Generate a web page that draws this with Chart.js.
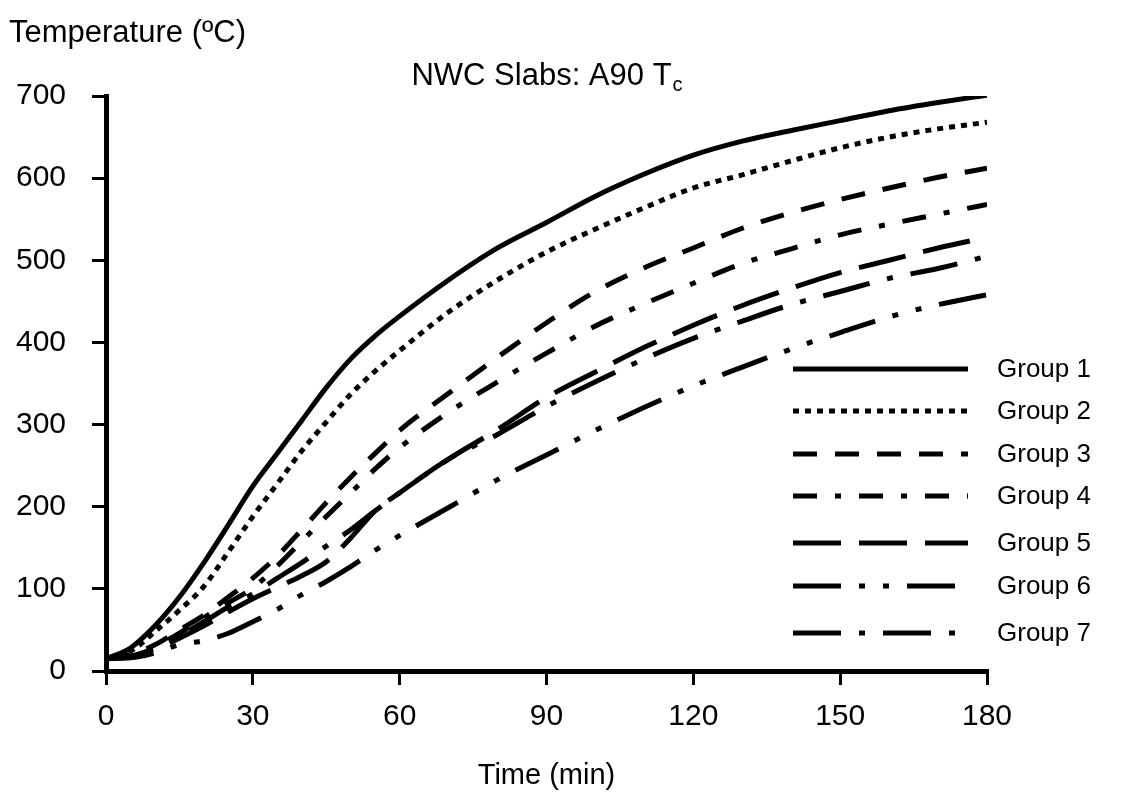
<!DOCTYPE html>
<html><head><meta charset="utf-8">
<script src="https://cdn.jsdelivr.net/npm/chart.js@4"></script>
<style>html,body{margin:0;padding:0;background:#fff;}canvas{display:block;}</style>
</head><body>
<canvas id="c" width="1127" height="798"></canvas>
<script>
// ---- data ----
const times  = [0,5,10,15,20,25,30,35,40,45,50,55,60,70,80,90,100,110,120,130,140,150,160,170,180];
const group1 = [15,28,55,90,132,178,225,265,305,345,380,408,432,476,515,546,578,605,628,645,658,670,682,692,701];
const group2 = [15,24,48,74,103,145,188,228,268,303,337,365,390,437,476,510,538,564,588,604,621,637,650,660,668];
const group3 = [15,20,32,50,68,90,113,140,172,205,236,265,293,338,382,424,462,491,515,539,558,574,588,601,612];
const group4 = [15,20,30,46,65,83,101,128,158,188,217,246,272,315,352,387,420,447,472,496,514,531,544,556,568];
const group5 = [15,18,27,40,55,72,88,102,116,133,162,195,217,258,294,333,364,394,421,445,466,485,500,515,528];
const group6 = [15,16,22,32,37,46,60,75,93,109,127,147,165,199,233,263,293,321,347,370,392,412,431,446,458];
const group7 = [15,18,28,43,60,78,94,113,132,152,172,195,217,258,288,322,352,380,405,426,446,462,478,490,505];
const seriesNames = ['Group 1','Group 2','Group 3','Group 4','Group 5','Group 6','Group 7'];
const xTicks = [0,30,60,90,120,150,180];
const yTicks = [0,100,200,300,400,500,600,700];
const titleMain = 'NWC Slabs: A90 T';
const titleSub = 'c';
const yLabel = 'Temperature (ºC)';
const xLabel = 'Time (min)';

// ---- styles ----
const dashes = [[],[6,6],[24,18],[24,18,6,18],[48,18],[48,18,6,18,6,18],[48,18,6,18]];
const FONT = '"Liberation Sans", Arial, sans-serif';
const FS_TICK = 30, FS_YLAB = 31, FS_TITLE = 31, FS_XLAB = 29, FS_LEG = 26;
const legendYs = [369,411,454,496,543,586,633];

const allSeries = [group1,group2,group3,group4,group5,group6,group7];
const datasets = allSeries.map((arr,i)=>({
  label: seriesNames[i],
  data: arr.map((v,j)=>({x: times[j], y: v})),
  borderColor:'#000', borderWidth:5, borderDash: dashes[i],
  borderCapStyle:'butt', borderJoinStyle:'round',
  pointRadius:0, fill:false, cubicInterpolationMode:'monotone'
}));

const textPlugin = {
  id:'texts',
  afterDraw(chart){
    const ctx = chart.ctx;
    ctx.save();
    ctx.fillStyle = '#000';
    ctx.textBaseline = 'middle';
    ctx.textAlign = 'left';
    ctx.font = FS_YLAB+'px '+FONT;
    ctx.fillText(yLabel, 9, 33);
    // title with subscript
    ctx.font = FS_TITLE+'px '+FONT;
    const w1 = ctx.measureText(titleMain).width;
    const subF = Math.round(FS_TITLE*0.65)+'px '+FONT;
    ctx.font = subF;
    const w2 = ctx.measureText(titleSub).width;
    const cx = (chart.chartArea.left + chart.chartArea.right)/2;
    const sx = cx - (w1+w2)/2;
    ctx.font = FS_TITLE+'px '+FONT;
    ctx.fillText(titleMain, sx, 76);
    ctx.font = subF;
    ctx.fillText(titleSub, sx + w1 + 1, 85);
    // x label
    ctx.font = FS_XLAB+'px '+FONT;
    ctx.textAlign = 'center';
    ctx.fillText(xLabel, cx, 776);
    // legend
    ctx.textAlign = 'left';
    ctx.font = FS_LEG+'px '+FONT;
    for (let i=0;i<seriesNames.length;i++){
      const y = legendYs[i];
      ctx.beginPath();
      ctx.setLineDash(dashes[i]);
      ctx.lineWidth = 5; ctx.lineCap='butt'; ctx.strokeStyle='#000';
      ctx.moveTo(793,y); ctx.lineTo(968,y); ctx.stroke();
      ctx.setLineDash([]);
      ctx.fillText(seriesNames[i], 997, y+1);
    }
    ctx.restore();
  }
};

new Chart(document.getElementById('c'), {
  type:'line',
  data:{datasets},
  options:{
    responsive:false, animation:false, devicePixelRatio:1,
    layout:{padding:{left:0,right:140,top:96,bottom:0}},
    plugins:{legend:{display:false}, title:{display:false}, tooltip:{enabled:false}},
    scales:{
      x:{type:'linear', min:0, max:180,
        afterBuildTicks: s => { s.ticks = xTicks.map(v=>({value:v})); },
        ticks:{font:{family:FONT,size:FS_TICK}, color:'#000', padding:14, maxRotation:0},
        grid:{drawOnChartArea:false, drawTicks:true, tickLength:14, color:'#000', lineWidth:3},
        border:{display:true, color:'#000', width:5},
        afterFit: s => { s.height = 127; }
      },
      y:{type:'linear', min:0, max:700,
        afterBuildTicks: s => { s.ticks = yTicks.map(v=>({value:v})); },
        ticks:{font:{family:FONT,size:FS_TICK}, color:'#000', padding:26},
        grid:{drawOnChartArea:false, drawTicks:true, tickLength:14, color:'#000', lineWidth:3},
        border:{display:true, color:'#000', width:5},
        afterFit: s => { s.width = 106; }
      }
    }
  },
  plugins:[textPlugin]
});
</script>
</body></html>
